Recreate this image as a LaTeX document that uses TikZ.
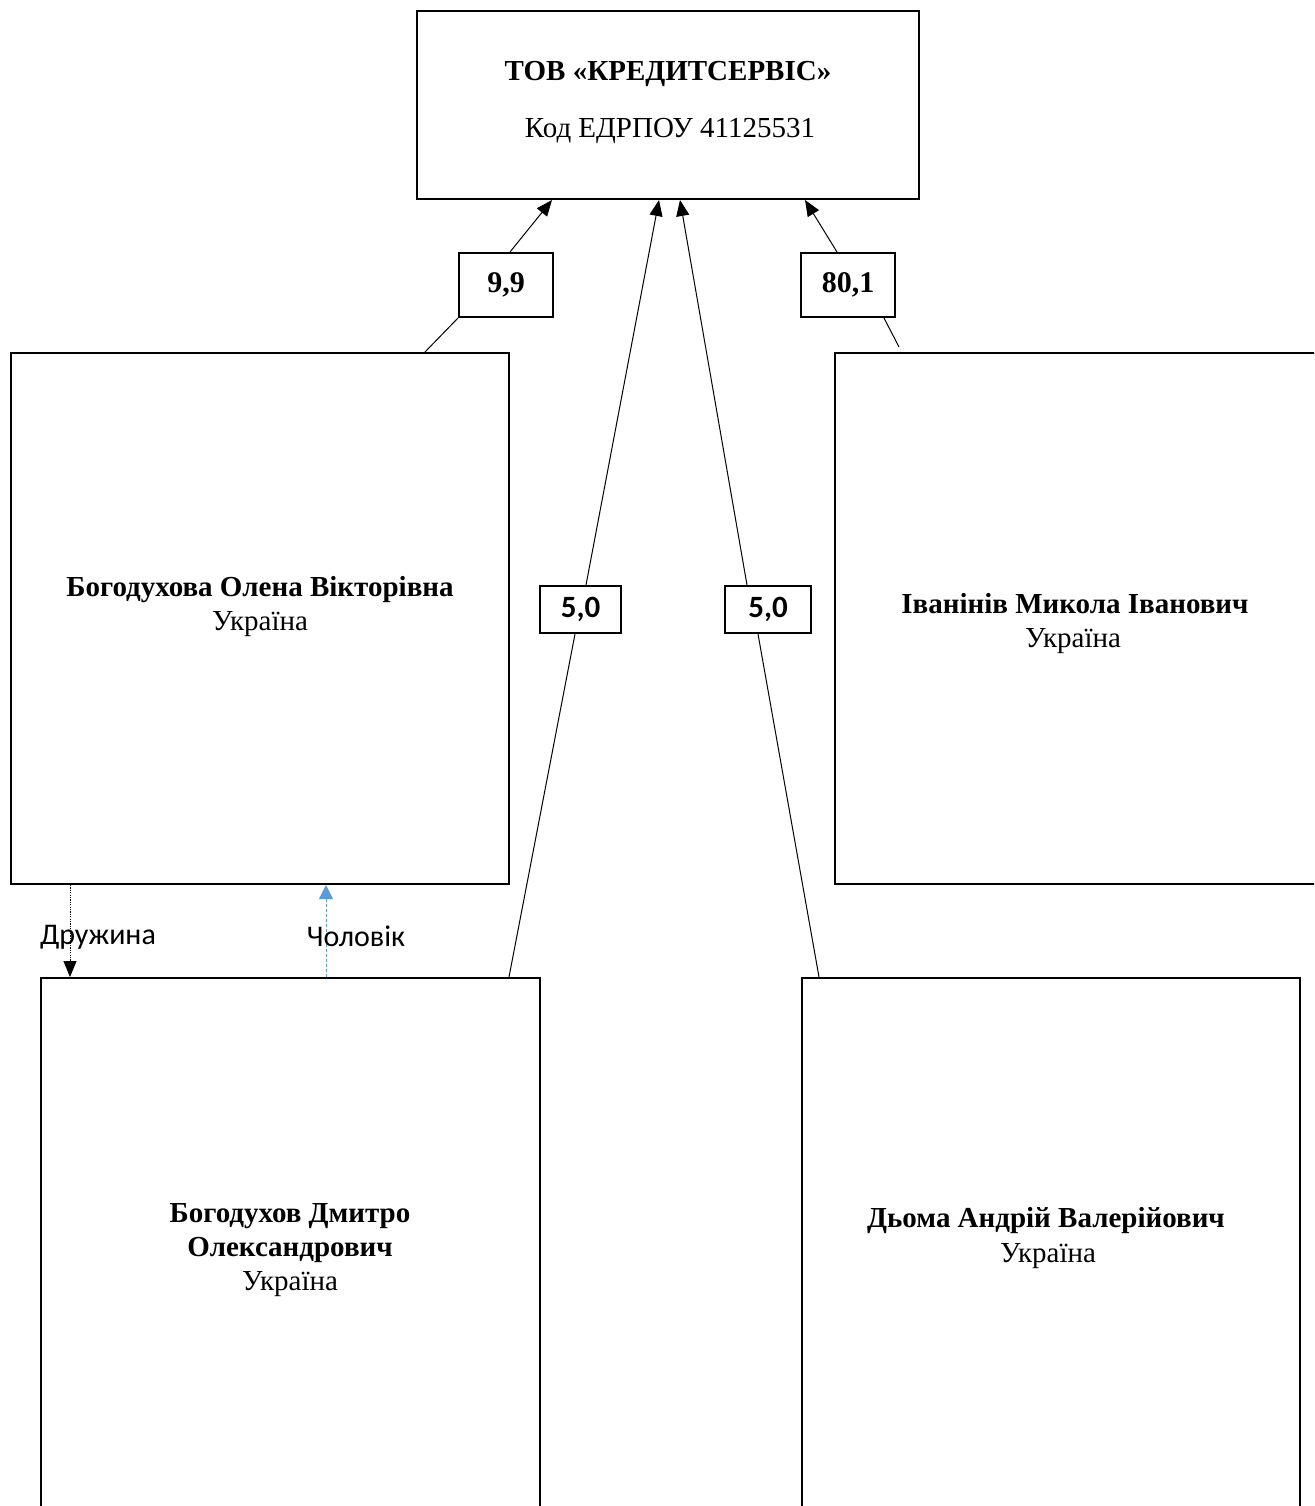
\documentclass[tikz,border=0pt]{standalone}
\usepackage{fontspec}
\setmainfont{Liberation Serif}
\newfontfamily\calfont{Carlito}
\usetikzlibrary{arrows.meta,calc}
\begin{document}
\begin{tikzpicture}[x=0.5pt,y=-0.5pt,
  txt/.style={inner sep=0pt, yshift=-2.75pt, font=\fontsize{14.5pt}{17pt}\selectfont, text height=0.68em, text depth=0.2em},
  bold/.style={txt, font=\fontsize{14.5pt}{17pt}\selectfont\bfseries},
  frame/.style={draw, line width=1pt, inner sep=0pt},
  tag/.style={draw, line width=1pt, fill=white, inner sep=0pt, font=\fontsize{15pt}{17pt}\selectfont\bfseries},
  tagsans/.style={tag, font=\fontsize{15.5pt}{17pt}\selectfont\calfont\bfseries},
  ln/.style={line width=0.5pt},
  arr/.style={line width=0.5pt, -{Triangle[length=8pt,width=6.5pt]}},
  rel/.style={inner sep=0pt, font=\fontsize{15pt}{17pt}\selectfont\calfont}
]
\useasboundingbox (0,0) rectangle (1314,1506);
\clip (0,0) rectangle (1314,1506);

% top company
\node[frame, minimum width=251pt, minimum height=94pt] (top) at (668,105) {};
\node[bold] (topname) at (668,70) {ТОВ «КРЕДИТСЕРВІС»};
\node[txt] (topcode) at (670,127) {Код ЕДРПОУ 41125531};

% persons
\node[frame, minimum width=249pt, minimum height=265.5pt] (lb) at (260,618.5) {};
\node[bold] (lbname) at (260,586) {Богодухова Олена Вікторівна};
\node[txt] (lbc) at (260,620) {Україна};

\node[frame, minimum width=240.5pt, minimum height=265.5pt] (rb) at (1075.5,618.5) {};
\node[bold] (rbname) at (1075,603) {Іванінів Микола Іванович};
\node[txt] (rbc) at (1073,637) {Україна};

\node[frame, minimum width=249.5pt, minimum height=276pt] (bl) at (290.5,1254) {};
\node[bold] (blname1) at (290,1212) {Богодухов Дмитро};
\node[bold] (blname2) at (290,1246) {Олександрович};
\node[txt] (blc) at (290,1280) {Україна};

\node[frame, minimum width=249pt, minimum height=276pt] (br) at (1051,1254) {};
\node[bold] (brname) at (1046,1217) {Дьома Андрій Валерійович};
\node[txt] (brc) at (1048,1252) {Україна};

% share tags
\node[tag, minimum width=47pt, minimum height=32pt] (l99) at (506,285) {9,9};
\node[tag, minimum width=47pt, minimum height=32pt] (l80) at (848,285) {80,1};
\node[tagsans, minimum width=40.5pt, minimum height=23.5pt] (l50a) at (580.5,609.5) {5,0};
\node[tagsans, minimum width=43pt, minimum height=23.5pt] (l50b) at (768,609.5) {5,0};

\coordinate (e80) at (899,347);

% ownership connectors
\draw[ln] ($(lb.north west)+(415,0)$) -- (l99.south west);
\draw[arr] ($(l99.north west)+(52,0)$) -- ($(top.south west)+(136,0)$);
\draw[ln] ($(l80.south west)+(84,0)$) -- (e80);
\draw[arr] ($(l80.north west)+(37,0)$) -- ($(top.south west)+(389,0)$);
\draw[ln] ($(bl.north west)+(469,0)$) -- ($(l50a.south west)+(36,0)$);
\draw[arr] ($(l50a.north west)+(47,0)$) -- ($(top.south west)+(243,0)$);
\draw[ln] ($(br.north west)+(18,0)$) -- ($(l50b.south west)+(34,0)$);
\draw[arr] ($(l50b.north west)+(23,0)$) -- ($(top.south west)+(264,0)$);

% family relations
\draw[arr, dash pattern=on 0.6pt off 0.6pt] ($(lb.south west)+(60,0)$) -- ($(bl.north west)+(30,0)$);
\definecolor{relblue}{RGB}{91,155,213}
\draw[line width=0.5pt, relblue, dash pattern=on 1.5pt off 1pt, -{Triangle[length=7pt,width=7pt]}] ($(bl.north west)+(286,0)$) -- ($(lb.south west)+(316,0)$);
\node[rel] (wife) at (98,937) {Дружина};
\node[rel] (husb) at (356,936) {Чоловік};
\end{tikzpicture}
\end{document}
